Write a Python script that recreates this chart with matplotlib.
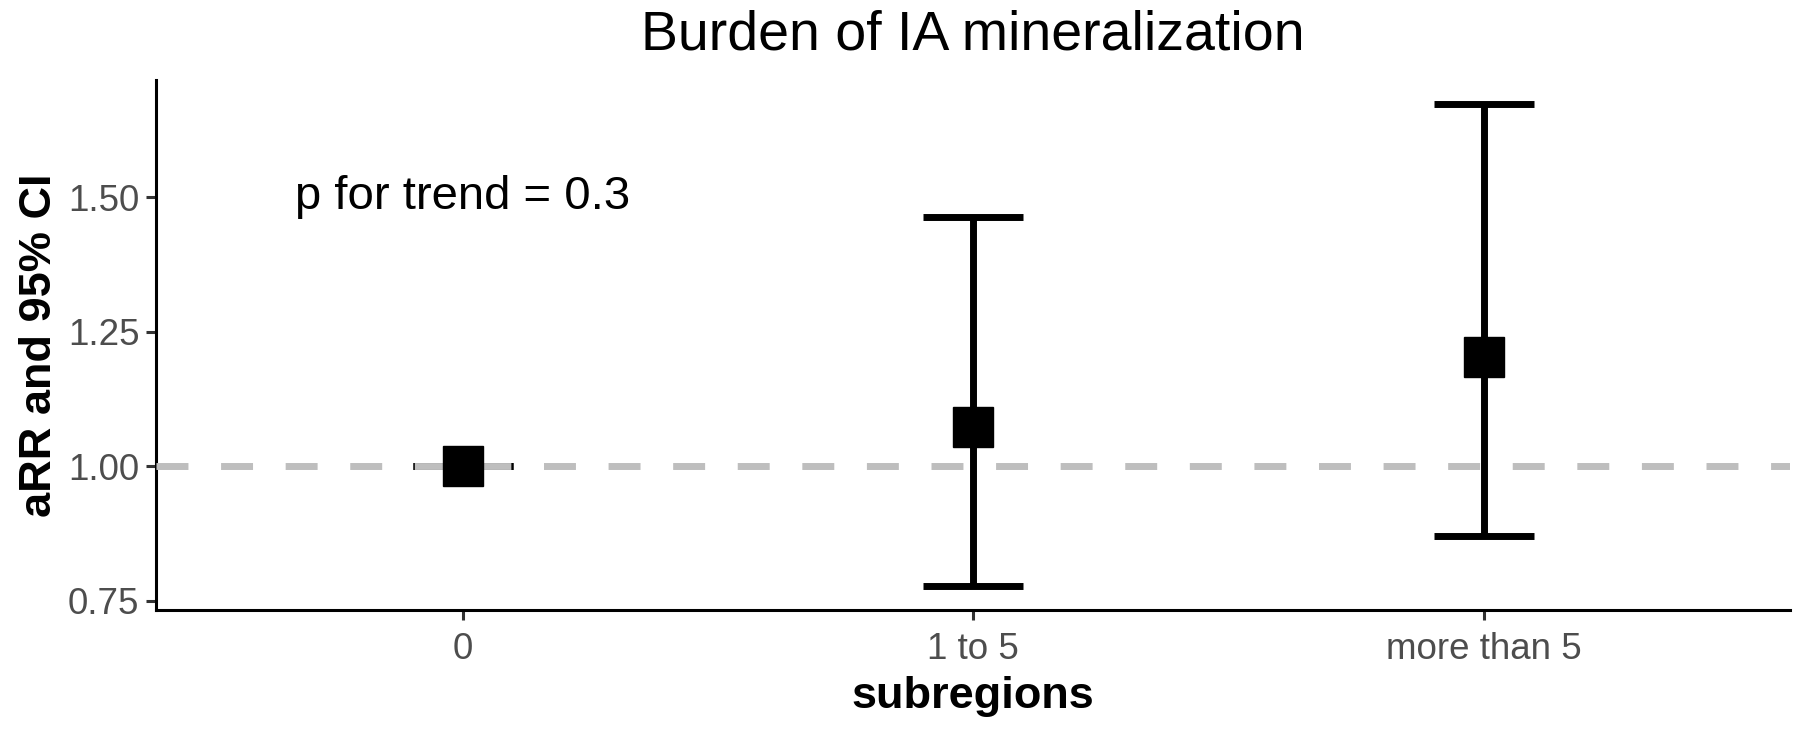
import matplotlib
matplotlib.use("Agg")
import matplotlib.pyplot as plt

# data
categories = ["0", "1 to 5", "more than 5"]
arr = [1.00, 1.073, 1.203]
ci_low = [1.00, 0.778, 0.870]
ci_high = [1.00, 1.464, 1.673]

plt.rcParams["font.family"] = ["Liberation Sans", "DejaVu Sans"]

fig = plt.figure(figsize=(18, 7.31), dpi=100)
ax = fig.add_axes([0.0867, 0.1655, 0.908, 0.725])

x = list(range(len(categories)))
yerr = [[a - l for a, l in zip(arr, ci_low)], [h - a for a, h in zip(arr, ci_high)]]

ax.errorbar(x, arr, yerr=yerr, fmt="none", ecolor="black", elinewidth=5,
            capsize=36, capthick=5, zorder=2)
ax.axhline(1.0, color="#BEBEBE", lw=5, ls=(0, (4.6, 4.7)), zorder=3)
ax.plot(x, arr, "s", color="black", markersize=28.5, zorder=4)

ax.text(0, 1.5, "p for trend = 0.3", ha="center", va="center", fontsize=34)

ax.set_xlim(-0.6, 2.6)
ax.set_ylim(0.733, 1.718)
ax.set_xticks(x)
ax.set_xticklabels(categories)
ax.set_yticks([0.75, 1.00, 1.25, 1.50])
ax.set_yticklabels(["0.75", "1.00", "1.25", "1.50"])

ax.spines["top"].set_visible(False)
ax.spines["right"].set_visible(False)
for s in ["left", "bottom"]:
    ax.spines[s].set_linewidth(2.2)
ax.tick_params(axis="both", labelsize=26.5, labelcolor="#4D4D4D", width=2.2,
               length=7, color="#333333", pad=5)
ax.tick_params(axis="x", pad=9)

ax.set_xlabel("subregions", fontsize=32.5, fontweight="bold", labelpad=6)
ax.set_ylabel("aRR and 95% CI", fontsize=32.5, fontweight="bold", labelpad=6)
ax.set_title("Burden of IA mineralization", fontsize=40, pad=22)

fig.savefig("out.png", dpi=100)
